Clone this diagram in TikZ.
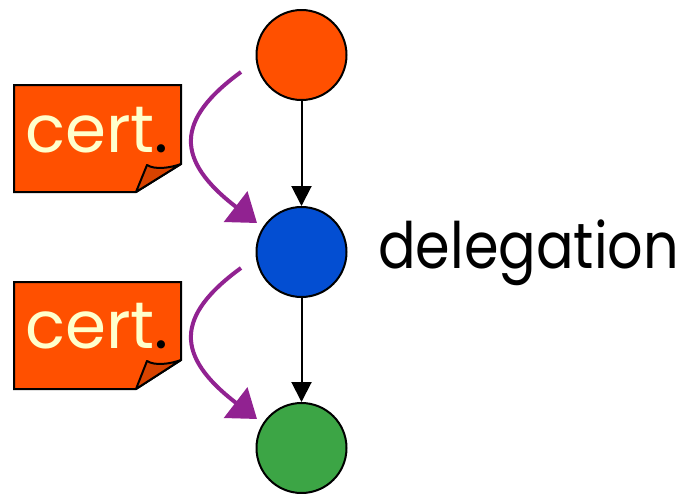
\documentclass[tikz,border=0pt]{standalone}
\usepackage{fontspec}
\setmainfont{Poppins}
\usetikzlibrary{arrows.meta}
\definecolor{nodeorange}{HTML}{FF5000}
\definecolor{nodeblue}{HTML}{034ED2}
\definecolor{nodegreen}{HTML}{3CA545}
\definecolor{certorange}{HTML}{FF5000}
\definecolor{flaporange}{HTML}{D84300}
\definecolor{cream}{HTML}{FFFFCC}
\definecolor{purp}{HTML}{912291}
\tikzset{
  circ/.style={circle, draw=black, line width=2pt, minimum size=90pt, inner sep=0pt},
  blkarrow/.style={draw=black, line width=2pt, -{Triangle[length=20pt,width=20pt]}},
  purparrow/.style={draw=purp, line width=4pt, -{Triangle[length=27pt,width=38pt]}},
  certbox/.style={fill=certorange, draw=black, line width=2pt, line join=miter},
  flap/.style={fill=flaporange, draw=black, line width=2pt, line join=round},
  certtext/.style={anchor=base, inner sep=0pt, font=\fontsize{66}{66}\selectfont},
  labeltext/.style={anchor=base west, inner sep=0pt, xscale=0.87, font=\fontsize{64}{64}\selectfont}
}
\begin{document}
\begin{tikzpicture}[x=1pt,y=-1pt]
\useasboundingbox (0,0) rectangle (690,493);
% circles
\node[circ, fill=nodeorange] (o) at (301.5,55) {};
\node[circ, fill=nodeblue] (b) at (301.5,252) {};
\node[circ, fill=nodegreen] (g) at (301.5,448) {};
% black arrows
\draw[blkarrow] (o) -- (b);
\draw[blkarrow] (b) -- (g);
% cert 1
\path[certbox] (14,85) -- (181,85) -- (181,164) -- (136,192) -- (14,192) -- cycle;
\path[flap] (136,192) -- (147,165) .. controls (155,170) and (170,168) .. (181,164) -- cycle;
\node[certtext] (c1) at (97,152) {\textcolor{cream}{cert}\textcolor{black}{.}};
% cert 2
\path[certbox] (14,282) -- (181,282) -- (181,360) -- (136,389) -- (14,389) -- cycle;
\path[flap] (136,389) -- (147,361) .. controls (155,366) and (170,364) .. (181,360) -- cycle;
\node[certtext] (c2) at (97,348) {\textcolor{cream}{cert}\textcolor{black}{.}};
% purple arrows
\coordinate (p1s) at (241,72);
\coordinate (p1e) at (257,223);
\coordinate (p2s) at (241,268);
\coordinate (p2e) at (257,419);
\draw[purparrow] (p1s) .. controls (175,120) and (175,160) .. (p1e);
\draw[purparrow] (p2s) .. controls (175,316) and (175,356) .. (p2e);
% label
\node[labeltext] (d) at (378,268) {delegation};
\end{tikzpicture}
\end{document}
